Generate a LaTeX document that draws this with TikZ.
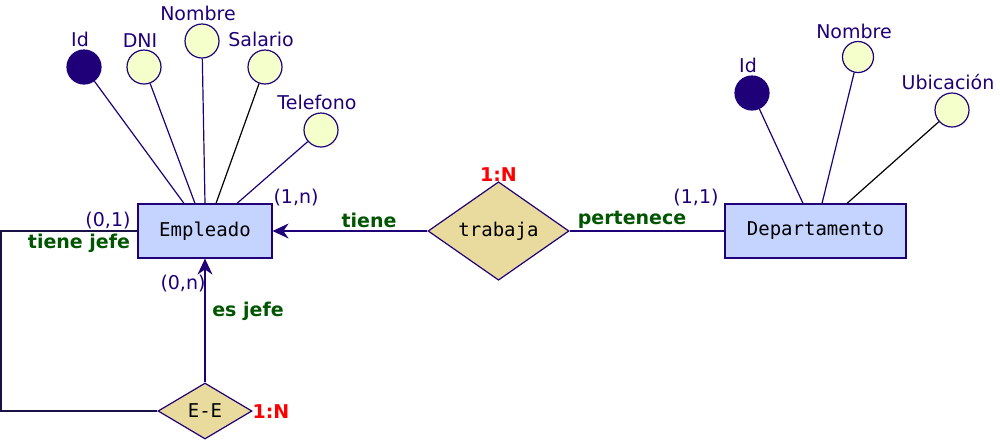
\documentclass[tikz,border=0pt]{standalone}
\usepackage{fontspec}
\setmainfont{DejaVu Sans}
\setmonofont{DejaVu Sans Mono}
\usetikzlibrary{arrows.meta, positioning, calc, shapes.geometric}

\definecolor{ink}{RGB}{32,0,120}
\definecolor{loopink}{RGB}{25,18,70}
\definecolor{entfill}{RGB}{197,212,255}
\definecolor{relfill}{RGB}{233,219,157}
\definecolor{attfill}{RGB}{245,255,204}
\definecolor{rolegreen}{RGB}{0,85,0}

\tikzset{
  entity/.style={draw=ink, fill=entfill, line width=0.6pt, inner sep=0pt,
    minimum height=27pt, font=\ttfamily\fontsize{9.5}{11}\selectfont},
  relation/.style={diamond, draw=ink, fill=relfill, line width=0.6pt, inner sep=0pt,
    font=\ttfamily\fontsize{9.5}{11}\selectfont},
  attr/.style={circle, draw=ink, fill=attfill, line width=0.6pt, inner sep=0pt, minimum size=17pt},
  keyattr/.style={attr, fill=ink},
  attrname/.style={text=ink, inner sep=1pt, font=\fontsize{9.5}{11}\selectfont},
  card/.style={text=ink, font=\fontsize{9.5}{11}\selectfont},
  role/.style={text=rolegreen, font=\bfseries\fontsize{9.5}{11}\selectfont},
  ratio/.style={text=red, font=\bfseries\fontsize{9.5}{11}\selectfont},
  conn/.style={draw=ink, line width=0.6pt},
  tip/.style={-{Stealth[length=8pt, width=7.5pt]}}
}

\begin{document}
\begin{tikzpicture}[x=0.5pt, y=-0.5pt]
  \useasboundingbox (0,0) rectangle (1000,441);

  % entities and relations
  \node[entity, minimum width=67pt] (emp) at (205,231) {Empleado};
  \node[entity, minimum width=90.5pt] (dep) at (815.5,231) {Departamento};
  \node[relation, minimum width=70.5pt, minimum height=42pt] (trab) at (498.5,231) {trabaja};
  \node[relation, minimum width=47pt, minimum height=28pt] (ee) at (205,411) {E-E};

  % attributes of Empleado
  \node[keyattr] (eid) at (84,67) {};
  \node[attr] (ednim) at (144,67) {};
  \node[attr] (enom) at (202,41) {};
  \node[attr] (esal) at (265,67) {};
  \node[attr] (etel) at (321,130) {};
  \node[attrname, above=0pt of eid, xshift=-2pt] (eidl) {Id};
  \node[attrname, above=0pt of ednim, xshift=-2pt] (ednil) {DNI};
  \node[attrname, above=0pt of enom, xshift=-2pt] (enoml) {Nombre};
  \node[attrname, above=0pt of esal, xshift=-2pt] (esall) {Salario};
  \node[attrname, above=0pt of etel, xshift=-2pt] (etell) {Telefono};

  \draw[conn] (eid) -- ($(emp.north)+(-21,0)$);
  \draw[conn] (ednim) -- ($(emp.north)+(-10,0)$);
  \draw[conn] (enom) -- (emp.north);
  \draw[line width=0.6pt] (esal) -- ($(emp.north)+(11,0)$);
  \draw[conn] (etel) -- ($(emp.north)+(32,0)$);

  % attributes of Departamento
  \node[keyattr] (did) at (752,93) {};
  \node[attr, minimum size=15.5pt] (dnom) at (858,57) {};
  \node[attr] (dubi) at (952,110) {};
  \node[attrname, above=0pt of did, xshift=-2pt] (didl) {Id};
  \node[attrname, above=0pt of dnom, xshift=-2pt] (dnoml) {Nombre};
  \node[attrname, above=0pt of dubi, xshift=-2pt] (dubil) {Ubicación};

  \draw[conn] (did) -- ($(dep.north)+(-12.5,0)$);
  \draw[conn] (dnom) -- ($(dep.north)+(6.5,0)$);
  \draw[line width=0.6pt] (dubi) -- ($(dep.north)+(31.5,0)$);

  % trabaja
  \draw[conn, tip] (trab.west) -- (emp.east);
  \draw[conn] (trab.east) -- (dep.west);
  \node[ratio] (trabn) at (498.5,175) {1:N};
  \node[role] (tiene) at (369,220) {tiene};
  \node[role] (pert) at (632,220) {pertenece};
  \node[card] (c1n) at (296,198) {(1,n)};
  \node[card] (c11) at (696,198) {(1,1)};

  % reflexive E-E
  \coordinate (loop) at (1,411);
  \draw[conn, tip] (ee.north) -- (emp.south);
  \draw[draw=loopink, line width=0.6pt] (ee.west) -- (loop) |- (emp.west);
  \node[ratio] (een) at (271,412) {1:N};
  \node[role] (esjefe) at (248,311) {es jefe};
  \node[role] (tjefe) at (79,243) {tiene jefe};
  \node[card] (c0n) at (183,284) {(0,n)};
  \node[card] (c01) at (108,221) {(0,1)};

\end{tikzpicture}
\end{document}
